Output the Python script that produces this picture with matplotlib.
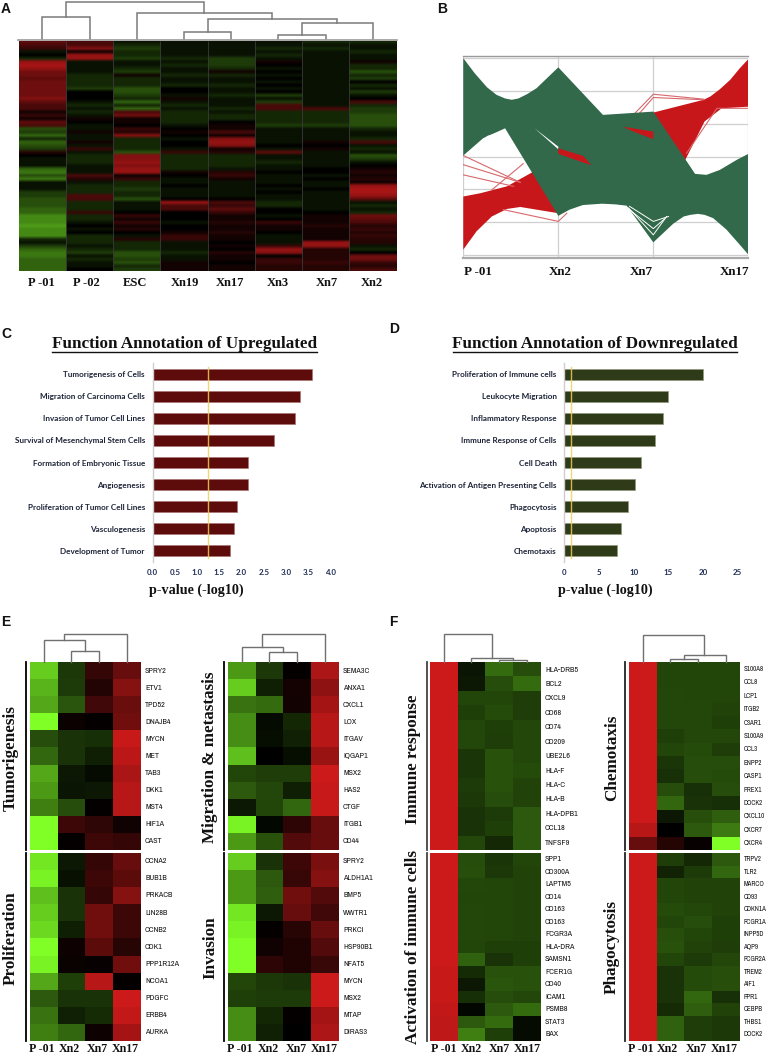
import numpy as np
import matplotlib
matplotlib.use("Agg")
import matplotlib.pyplot as plt
from matplotlib.colors import LinearSegmentedColormap, TwoSlopeNorm
from matplotlib.lines import Line2D
from matplotlib import font_manager as fm
from matplotlib.font_manager import FontProperties
from matplotlib.textpath import TextPath

W, H = 767, 1060
SERIF = "Liberation Serif"
LABEL = "Lato"
names = {f.name for f in fm.fontManager.ttflist}
narrow_found = sorted(n for n in names if "narrow" in n.lower() or "condensed" in n.lower())
NARROW = narrow_found[0] if narrow_found else "Roboto"

def fit_size(text, target_px):
    width = TextPath((0, 0), text, size=10, prop=FontProperties(family=NARROW)).get_extents().width
    return 10 * target_px * 0.72 / width

GENE_SIZE = fit_size("PPP1R12A", 33)
GENE_SIZE_F2 = fit_size("CDKN1A", 22.5)

# ---------- Panel A ----------
a_labels = ["P -01", "P -02", "ESC", "Xn19", "Xn17", "Xn3", "Xn7", "Xn2"]
a_p01 = [5,4,3,-1,0,-2,8,9,8,6, 6,5,6,6,6,6,6,7,5,4, 4,1,3,1,5,4,-4,-3,-5,-2, -5,-4,-3,2,0,-1,-1,-1,-5,-6,
         -4,-6,-1,-1,-1,-3,-3,-4,-4,-4, -5,-5,-7,-7,-7,-8,-7,-7,-7,-2, -1,-3,-5,-6,-6,-5,-5,-5,-5]
a_p02 = [4,4,7,1,8,8,-1,-1,-1,-1, -2,-2,-2,-2,-3,0,0,0,-1,-2, -1,-2,-1,1,0,-1,-1,1,-1,-1, 1,-1,3,-1,-2,-2,-2,-1,-1,-1,
         4,2,-1,-2,-2,-2,4,4,-2,-2, -2,3,-2,-2,-1,0,-1,0,-2,-2, -2,-1,-2,-3,-1,-2,-1,-1,0]
a_esc = [-1,-2,-3,-2,-2,-3,-1,-1,-2,-3, 1,-2,-2,-2,-4,-4,-3,-2,-5,-2, -5,4,6,1,1,0,3,2,7,-2, -2,-2,-2,-4,7,7,8,7,8,8,
         1,3,-2,-2,-3,-2,-2,-4,-1,-1, -1,0,3,1,3,1,2,0,-1,2, -2,-2,-2,-4,-4,-3,-4,-2,-3]
a_xn19 = [-1,-1,-1,-1,-1,-2,-1,-2,-1,-1, -2,-1,-1,-2,0,0,-1,1,-1,-2, -1,-2,-2,-2,-2,-1,0,1,0,-1, 0,0,-1,3,-2,-2,-2,-2,-2,1,
          0,-1,-1,0,-1,-1,-1,0,8,4, 4,0,0,0,-1,0,0,1,3,3, -1,-1,-1,-2,-1,-1,1,1,1]
a_xn17 = [-1,-1,-1,-1,-1,-3,-3,-3,-2,1, -2,-1,-1,-2,-1,-1,-2,-1,-1,-1, -2,-1,-2,-2,0,1,1,4,1,7, 8,7,1,2,-2,-2,-2,-2,-1,2,
          3,1,-1,-1,-1,-1,-1,0,4,3, 5,3,1,1,2,1,1,2,1,1, 0,1,0,2,1,1,0,1,1]
a_xn3 = [-1,-1,-2,-1,-2,-1,1,0,-1,0, -1,0,-1,0,-1,0,-3,-1,-3,4, 4,-2,-2,-2,-2,-3,-1,-1,-1,-1, -1,0,-1,5,-1,-1,-2,-1,-1,0,
         -1,-1,-1,0,-1,0,-1,-1,-2,-2, 0,0,-1,0,3,1,1,0,-1,-1, -1,3,8,7,0,3,3,2,2]
a_xn7 = [-2,-1,-2,-1,-1,-1,-1,-1,-1,-1, -1,-1,-1,-1,-1,-1,-1,-1,-1,-1, 4,-2,-2,-2,-2,-3,-1,-1,-1,-1, 1,0,1,-1,-1,-1,-1,-1,0,0,
         -1,0,-1,-1,0,-1,-1,-1,-1,-1, -1,0,1,1,1,2,1,1,1,1, 8,8,2,2,2,2,3,2,2]
a_xn2 = [-2,-1,-1,-2,-1,-1,1,-2,-2,-4, -2,-3,0,-2,-1,-3,-1,0,4,-2, -3,-3,-4,-4,-4,-4,-2,-1,-1,-2, 4,-1,-2,-1,-4,-3,-1,0,1,2,
         1,2,1,8,9,9,8,5,-1,-2, -1,-2,6,5,4,2,3,2,3,2, 2,-1,-2,0,6,6,3,2,4]
a_merges = [(0.5,0,1.5,0,22), (3.5,0,4.5,0,7), (5.5,0,6.5,0,4.7), (6.0,4.7,7.5,0,16),
            (4.0,7,6.75,16,20), (2.5,0,5.37,20,26.7), (1.0,22,3.93,26.7,37.3)]

# ---------- Panel B ----------
b_labels = ["P -01", "Xn2", "Xn7", "Xn17"]
green_x = [0,.12,.25,.35,.44,.51,.58,.67,.77,1,1.47,1.74,2,2.44,2.56,2.70,2.88,3,
           3,2.91,2.77,2.63,2.54,2.47,2.39,2.32,2.21,2,1.72,1.60,1.46,1.26,1.12,1,.44,.21,0]
green_y = [3,2.54,2.11,1.88,1.77,1.73,1.77,1.90,2.08,2.72,1.27,1.32,1.37,-.53,-.56,-.41,-.10,.08,
           -2.99,-2.69,-2.23,-1.88,-1.78,-1.75,-1.78,-1.83,-2.05,-2.62,-1.50,-1.46,-1.44,-1.48,-1.62,-1.81,.86,.56,.03]
red_x = [0,.18,.46,.74,1.72,2,2.53,2.6,2.70,2.81,2.91,3,3,2.72,2.54,2.32,1,.6,.46,.3,.14,0]
red_y = [-1.22,-1.12,-.91,-.46,.91,1.34,1.73,1.83,2.05,2.34,2.69,2.97,1.52,1.47,1.07,-.2,-1.73,-1.54,-1.60,-1.83,-2.28,-2.84]
sliver_x, sliver_y = [.75,1,1], [.86,.30,.22]
diamond_x, diamond_y = [1,1.26,1.35,1], [.25,.02,-.27,.08]
wedge_x, wedge_y = [1.68,2,2,1.79], [.91,.76,.53,.76]
red_lines = [([0,.6],[.03,-.79]), ([0,.6],[-.25,-.79]), ([0,.53],[-.56,-.91]), ([.3,.63],[-1.02,-.22]),
             ([.42,1,1.09],[-1.62,-1.98,-1.73]), ([1.79,2,2.53],[1.27,1.9,1.75]), ([1.84,2,2.53],[1.27,1.80,1.73]),
             ([2.35,2.67,3],[.1,1.47,1.47])]
gap_lines = [([1.74,2,2.14],[-1.57,-2.39,-1.83]), ([1.75,2,2.16],[-1.52,-1.98,-1.83]),
             ([1.74,2,2.12],[-1.6,-2.2,-1.9]), ([.25,.42],[.61,.76])]

# ---------- Panels C, D ----------
c_terms = ["Tumorigenesis of Cells", "Migration of Carcinoma Cells", "Invasion of Tumor Cell Lines",
           "Survival of Mesenchymal Stem Cells", "Formation of Embryonic Tissue", "Angiogenesis",
           "Proliferation of Tumor Cell Lines", "Vasculogenesis", "Development of Tumor"]
c_values = [3.595, 3.31, 3.20, 2.73, 2.15, 2.15, 1.90, 1.84, 1.75]
c_ticks = [0, .5, 1, 1.5, 2, 2.5, 3, 3.5, 4]
c_threshold = 1.25
d_terms = ["Proliferation of Immune cells", "Leukocyte Migration", "Inflammatory Response",
           "Immune Response of Cells", "Cell Death", "Activation of Antigen Presenting Cells",
           "Phagocytosis", "Apoptosis", "Chemotaxis"]
d_values = [19.95, 14.9, 14.2, 13.08, 11.1, 10.2, 9.13, 8.13, 7.64]
d_ticks = [0, 5, 10, 15, 20, 25]
d_threshold = 1.0

# ---------- Panels E, F ----------
columns4 = ["P -01", "Xn2", "Xn7", "Xn17"]
tumor_genes = ["SPRY2","ETV1","TPD52","DNAJB4","MYCN","MET","TAB3","DKK1","MST4","HIF1A","CAST"]
tumor_vals = [[-8,-2.2,2.5,5],[-7,-2.3,1.7,6.5],[-6.5,-3.3,3.2,5.2],[-10,.6,.2,5.5],[-3,-2,-1.8,9.8],[-4,-2,-1.2,9.2],
              [-6.5,-1,-.4,8.3],[-6,-.8,-1,9],[-5,-3,.2,9],[-10,3,2.3,.8],[-10,.2,3,2.5]]
prolif_genes = ["CCNA2","BUB1B","PRKACB","LIN28B","CCNB2","CDK1","PPP1R12A","NCOA1","PDGFC","ERBB4","AURKA"]
prolif_vals = [[-9,-1,2.5,5],[-9.5,-.7,3,4.5],[-7.5,-2,2.5,6.5],[-8,-2,5.5,3],[-8.5,-1.2,5.5,3],[-10,.7,4.5,2],
               [-9.5,.5,.4,5.5],[-6.5,-2.5,9,.2],[-3.5,-2,-2,10],[-4.5,-1.3,-1.7,9.5],[-5,-4,.7,8]]
migr_genes = ["SEMA3C","ANXA1","CXCL1","LOX","ITGAV","IQGAP1","MSX2","HAS2","CTGF","ITGB1","CD44"]
migr_vals = [[-6,-2.2,.2,8.5],[-8,-1.2,1,7],[-4.5,-4.2,.9,8],[-5.5,-.4,-1.5,9],[-5.5,-.5,-1.3,9],[-7.5,0,-.5,7.5],
             [-2.7,-2.4,-2.4,10],[-3.5,-2.8,-1.2,9.7],[-1,-2.7,-4,9.8],[-9.5,-.3,2.2,5],[-6,-3.2,4,5]]
inv_genes = ["SPRY2","ALDH1A1","BMP5","WWTR1","PRKCI","HSP90B1","NFAT5","MYCN","MSX2","MTAP","DIRAS3"]
inv_vals = [[-8,-2,3,6],[-6,-3.5,2.7,6.5],[-6,-3.7,5.5,4],[-9,-1,5,3.2],[-9.5,.2,2,5],[-10,.8,1.5,4],[-10,2.2,1.5,2.8],
            [-2.7,-2.2,-2,10],[-2.5,-2.3,-2.3,10],[-5.5,-1.5,.2,8],[-5.5,-1.3,0,8.5]]
imm_genes = ["HLA-DRB5","BCL2","CXCL9","CD68","CD74","CD209","UBE2L6","HLA-F","HLA-C","HLA-B","HLA-DPB1","CCL18","TNFSF9"]
imm_vals = [[10,-.8,-4.2,-3],[10,-1,-3,-4.2],[10,-2.7,-2.7,-2.4],[10,-2.5,-2.9,-2.4],[10,-2.8,-2.5,-2.8],[10,-2.8,-2.4,-2.8],
            [10,-2.1,-3.2,-2.8],[10,-2.1,-3.2,-2.9],[10,-2.3,-3.2,-2.6],[10,-2.2,-3,-2.6],[10,-2,-2.3,-3.5],[10,-2,-2.5,-3.5],
            [10,-2.8,-1.6,-3.5]]
act_genes = ["SPP1","CD300A","LAPTM5","CD14","CD163","CD163","FCGR3A","HLA-DRA","SAMSN1","FCER1G","CD40","ICAM1","PSMB8","STAT3","BAX"]
act_vals = [[10,-3,-2.1,-2.7],[10,-3.1,-2.2,-2.6],[10,-2.8,-2.7,-2.6],[10,-2.7,-2.7,-2.6],[10,-2.8,-2.7,-2.6],[10,-2.8,-2.7,-2.6],
            [10,-2.8,-2.7,-2.6],[10,-2.7,-2.5,-2.5],[10,-3.8,-2,-2.5],[9.8,-1.7,-3.2,-3.2],[9.8,-1,-3.3,-3.2],[9.8,-1.8,-3,-2.8],
            [9.5,-.3,-3.5,-4.2],[9.3,-3.5,-4.2,-.4],[9.3,-5,-2.5,-.4]]
chem_genes = ["S100A8","CCL8","LCP1","ITGB2","C3AR1","S100A9","CCL3","ENPP2","CASP1","PREX1","DOCK2","CXCL10","CXCR7","CXCR4"]
chem_vals = [[10,-2.7,-2.7,-2.7],[10,-2.7,-2.7,-2.7],[10,-2.8,-2.7,-2.7],[10,-2.8,-2.8,-2.6],[10,-2.8,-2.8,-2.5],[10,-2.5,-2.8,-2.8],
             [10,-2.7,-2.9,-2.4],[10,-2.1,-3,-3],[10,-1.9,-3,-2.9],[10,-3,-1.9,-3],[10,-4,-2,-1.8],[10,-1,-3.1,-3.7],
             [9,0,-3.5,-4.8],[5,1.8,.4,-10]]
phago_genes = ["TRPV2","TLR2","MARCO","CD93","CDKN1A","FCGR1A","INPP5D","AQP9","FCGR2A","TREM2","AIF1","FPR1","CEBPB","THBS1","DOCK2"]
phago_vals = [[10,-2.4,-1.6,-3.5],[10,-1.4,-2.3,-4],[10,-2.7,-2.6,-2.6],[10,-2.7,-2.6,-2.6],[10,-2.9,-2.8,-2.6],[10,-2.7,-3,-2.5],
              [10,-3.1,-2.7,-2.5],[10,-3.2,-2.6,-2.4],[10,-2.7,-2.3,-2.8],[10,-2,-2.9,-3.1],[10,-2,-2.9,-3.1],[10,-2,-4,-1.9],
              [10,-1.7,-3.7,-2.6],[10,-3.8,-2.4,-2.2],[10,-3.8,-2.4,-2.2]]
e1_merges = [(1.5,0,2.5,0,11), (.5,0,2.0,11,21.7), (1.25,21.7,3.5,0,27.3)]
e2_merges = [(1.5,0,2.5,0,10), (.5,0,2.0,10,15), (1.25,15,3.5,0,27.3)]
f1_merges = [(2.5,0,3.5,0,2), (1.5,0,3.0,2,3.3), (.5,0,2.24,3.3,28)]
f2_merges = [(1.5,0,2.5,0,3), (2.0,3,3.5,0,7), (.5,0,2.73,7,27)]

# ---------- helpers ----------
cmap = LinearSegmentedColormap.from_list("gbr", ["#80ff26", "#000000", "#cc1a1a"])
fig = plt.figure(figsize=(W/100, H/100), dpi=100, facecolor="white")

def box(x0, y0, x1, y1, **kw):
    return fig.add_axes([x0/W, 1-y1/H, (x1-x0)/W, (y1-y0)/H], **kw)

def ftext(x, y, s, **kw):
    return fig.text(x/W, 1-y/H, s, **kw)

def dendro(x0, x1, base_y, ncol, merges, color="#6e6e6e", lw=1.0):
    ax = box(x0, 0, x1, base_y)
    ax.set_xlim(0, ncol); ax.set_ylim(0, base_y); ax.axis("off"); ax.patch.set_alpha(0)
    for lx, ly, rx, ry, h in merges:
        ax.plot([lx, lx, rx, rx], [ly, h, h, ry], color=color, lw=lw, solid_joinstyle="miter", clip_on=False)

def heat(x0, y0, x1, y1, vals, genes, gene_x, size):
    ax = box(x0, y0, x1, y1)
    ax.imshow(np.array(vals, float), cmap=cmap, vmin=-10, vmax=10, aspect="auto", interpolation="nearest")
    ax.axis("off")
    n = len(genes)
    for i, g in enumerate(genes):
        ftext(gene_x, y0 + (i+.5)*(y1-y0)/n, g, fontsize=size, family=NARROW, va="center", ha="left", color="#111111")

def serif_label(x, y, s, size=8.4, **kw):
    ftext(x, y, s, fontsize=size, family=SERIF, weight="bold", ha="center", va="center", color="#111111", **kw)

def bars(x0, x1, terms, vals, ticks, thr, xmax, color, edge, ticklabels, title, tx0, tx1, xlab_x):
    ax = box(x0, 363.3, x1, 561.7)
    y = np.arange(len(terms))
    ax.barh(y, vals, height=.5, color=color, edgecolor=edge, linewidth=.5)
    ax.set_xlim(0, xmax); ax.set_ylim(len(terms)-.5, -.5)
    ax.plot([thr, thr], [8.35, -.35], color="#f0cf5a", lw=1.0, alpha=.85)
    for s in ["top", "right", "bottom"]:
        ax.spines[s].set_visible(False)
    ax.spines["left"].set_color("#cfcfcf"); ax.spines["left"].set_linewidth(1.0)
    ax.patch.set_alpha(0)
    ax.set_yticks(y, terms, fontsize=5.9, family=LABEL, weight="bold", color="#1d2438")
    ax.set_xticks(ticks, ticklabels, fontsize=5.7, family=LABEL, weight="bold", color="#1d2b55")
    ax.tick_params(axis="y", length=0, pad=5.6)
    ax.tick_params(axis="x", length=0, pad=5.5)
    ftext((tx0+tx1)/2, 344, title, fontsize=12.3, family=SERIF, weight="bold", ha="center", va="center", color="#111111")
    fig.add_artist(Line2D([tx0/W, tx1/W], [1-351.7/H]*2, color="#111111", lw=1.0))
    ftext(xlab_x, 590, "p-value (-log10)", fontsize=10.2, family=SERIF, weight="bold", ha="center", va="center", color="#111111")

# ---------- draw A ----------
a_matrix = np.array([a_p01, a_p02, a_esc, a_xn19, a_xn17, a_xn3, a_xn7, a_xn2], float).T
axA = box(18.7, 40.7, 396.3, 270.7)
axA.imshow(np.repeat(a_matrix, 40, axis=1), cmap=cmap, norm=TwoSlopeNorm(vmin=-13, vcenter=0, vmax=11),
           aspect="auto", interpolation="bilinear", extent=(0, 8, 69, 0))
axA.vlines(np.arange(1, 8), 0, 69, color="#3b3b3b", lw=.6)
axA.axis("off")
dendro(18.7, 396.3, 39.3, 8, a_merges, color="#7a7a7a", lw=1.1)
fig.add_artist(Line2D([18/W, 397/W], [1-40/H]*2, color="#9a9a9a", lw=1.2))
for cx, lab in zip([41, 86.7, 135, 185, 230, 277.7, 327, 371.7], a_labels):
    serif_label(cx, 283.5, lab, size=9)

# ---------- draw B ----------
axB = box(463.3, 56, 748.3, 258)
axB.set_xlim(0, 3); axB.set_ylim((470-775)/98.5, (470-168)/98.5)
axB.set_yticks(range(-3, 4)); axB.set_xticks(range(4))
axB.grid(True, color="#cfcfcf", lw=.9); axB.set_axisbelow(True)
axB.tick_params(length=0, labelleft=False, labelbottom=False)
for s in ["left", "right"]:
    axB.spines[s].set_visible(False)
axB.spines["top"].set_color("#999999"); axB.spines["top"].set_linewidth(1.0)
axB.spines["bottom"].set_color("#aaaaaa"); axB.spines["bottom"].set_linewidth(1.6)
axB.fill(red_x, red_y, color="#c8171b", lw=0, zorder=2)
for xs, ys in red_lines:
    axB.plot(xs, ys, color="#d8686c", lw=.8, zorder=2.5)
axB.fill(green_x, green_y, color="#31694a", lw=0, zorder=3)
axB.fill(sliver_x, sliver_y, color="white", lw=0, zorder=4)
axB.fill(diamond_x, diamond_y, color="#c8171b", lw=0, zorder=4)
axB.fill(wedge_x, wedge_y, color="#c8171b", lw=0, zorder=4)
for xs, ys in gap_lines:
    axB.plot(xs, ys, color="white", lw=.7, zorder=4)
for cx, lab in zip([478.3, 560, 641, 734.3], b_labels):
    serif_label(cx, 272, lab, size=9.4)

# ---------- draw C, D ----------
bars(152.7, 330.4, c_terms, c_values, c_ticks, c_threshold, 4, "#5e0b0b", "#a87474",
     ["0.0","0.5","1.0","1.5","2.0","2.5","3.0","3.5","4.0"], "Function Annotation of Upregulated", 51.7, 316.7, 196.7)
bars(564.3, 737.7, d_terms, d_values, d_ticks, d_threshold, 25, "#2e3a18", "#8f9a7a",
     [str(t) for t in d_ticks], "Function Annotation of Downregulated", 453.3, 736.7, 605)

# ---------- draw E, F ----------
T0, T1, B0, B1 = 662.3, 850, 852.7, 1040.7
for x0, gene_x, brk, top_vals, top_genes, bot_vals, bot_genes, merges, labs, bc, gs in [
    (29.7, 145, 26, tumor_vals, tumor_genes, prolif_vals, prolif_genes, e1_merges, [41.7,69.7,97,125.7], "#000000", GENE_SIZE),
    (227.7, 343, 224.3, migr_vals, migr_genes, inv_vals, inv_genes, e2_merges, [239.7,268,296,324.5], "#000000", GENE_SIZE),
    (429.7, 545, 426.7, imm_vals, imm_genes, act_vals, act_genes, f1_merges, [443.3,471.7,499,527.5], "#444444", GENE_SIZE),
    (628.7, 743.5, 625, chem_vals, chem_genes, phago_vals, phago_genes, f2_merges, [640.7,667.7,696,724], "#222222", GENE_SIZE_F2)]:
    x1 = x0 + 110.8
    heat(x0, T0, x1, T1, top_vals, top_genes, gene_x, gs)
    heat(x0, B0, x1, B1, bot_vals, bot_genes, gene_x, gs)
    dendro(x0, x1, 661.5, 4, merges, color="#707070", lw=1.0)
    for y0, y1 in [(T0, T1), (B0, B1)]:
        fig.add_artist(Line2D([brk/W]*2, [1-y0/H, 1-y1/H], color=bc, lw=1.3))
    for cx, lab in zip(labs, columns4):
        serif_label(cx, 1048.5, lab, size=8.6)

for x, y, s in [(11, 758, "Tumorigenesis"), (11, 938, "Proliferation"), (210, 757, "Migration & metastasis"),
                (210, 947.5, "Invasion"), (413, 759, "Immune response"), (413, 947.5, "Activation of immune cells"),
                (611.7, 758, "Chemotaxis"), (611.7, 947, "Phagocytosis")]:
    serif_label(x, y, s, size=12.3, rotation=90)

for x, y, s in [(1, 13, "A"), (437, 13, "B"), (1, 338, "C"), (389, 332.7, "D"), (1, 626, "E"), (389, 626, "F")]:
    ftext(x, y, s, fontsize=10, family="Liberation Sans", weight="bold", ha="left", va="baseline", color="#111111")

fig.savefig("out.png", dpi=100)
